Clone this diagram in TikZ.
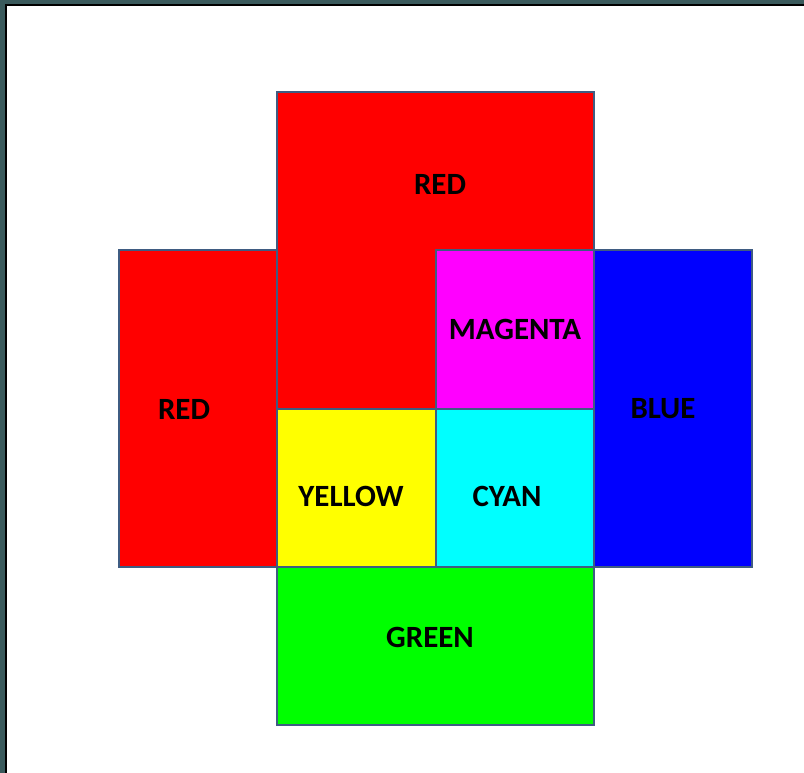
\documentclass[tikz,border=0pt]{standalone}
\usepackage{fontspec}
\setmainfont{Carlito}
\definecolor{frameteal}{RGB}{58,90,92}
\definecolor{celledge}{RGB}{63,92,130}
\definecolor{pureyellow}{RGB}{255,255,0}
\definecolor{purecyan}{RGB}{0,255,255}
\definecolor{puregreen}{RGB}{0,255,0}
\definecolor{puremagenta}{RGB}{255,0,255}
\definecolor{purered}{RGB}{255,0,0}
\definecolor{pureblue}{RGB}{0,0,255}
\tikzset{
  cell/.style={draw=celledge, line width=1.6pt, line join=miter},
  lbl/.style={font=\fontsize{17.6}{20}\selectfont\bfseries, text=black, inner sep=0pt}
}

\begin{document}
\begin{tikzpicture}[x=0.02cm, y=-0.02cm]

% ================================================================
% Frame (px coordinates, y downward)
% ================================================================
\useasboundingbox (0,0) rectangle (804,773);
\fill[frameteal] (0,0) rectangle (804,773);
\fill[black] (5,4) rectangle (804,773);
\fill[white] (7,6) rectangle (804,773);

% ================================================================
% Colour cells
% ================================================================
\filldraw[cell, fill=purered]     (277,92)  rectangle (594,409);
\filldraw[cell, fill=purered]     (119,250) rectangle (277,567);
\filldraw[cell, fill=pureblue]    (594,250) rectangle (752,567);
\filldraw[cell, fill=puremagenta] (436,250) rectangle (594,409);
\filldraw[cell, fill=pureyellow]  (277,409) rectangle (436,567);
\filldraw[cell, fill=purecyan]    (436,409) rectangle (594,567);
\filldraw[cell, fill=puregreen]   (277,567) rectangle (594,725);

% ================================================================
% Labels
% ================================================================
\node[lbl] (redtop)  at (440,184) {RED};
\node[lbl] (redleft) at (184,409) {RED};
\node[lbl] (magenta) at (515,329) {MAGENTA};
\node[lbl] (blue)    at (663,409) {BLUE};
\node[lbl] (yellow)  at (351,496) {YELLOW};
\node[lbl] (cyan)    at (507,496) {CYAN};
\node[lbl] (green)   at (430,637) {GREEN};

\end{tikzpicture}
\end{document}
